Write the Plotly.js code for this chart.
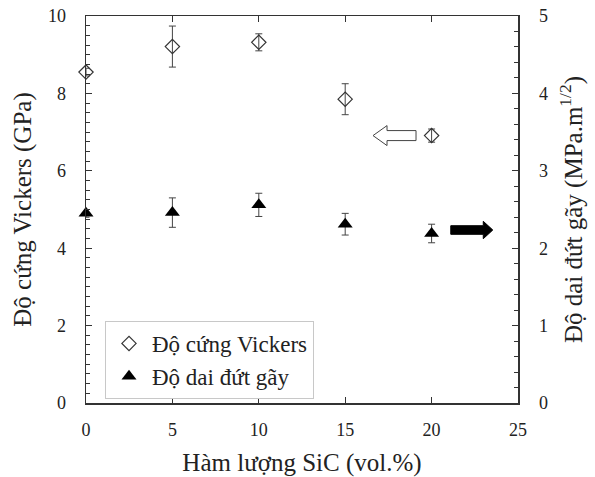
<!DOCTYPE html>
<html>
<head>
<meta charset="utf-8">
<script src="https://cdn.plot.ly/plotly-3.0.1.min.js"></script>
<style>html,body{margin:0;padding:0;background:#fff;}#chart{width:595px;height:477px;}</style>
</head>
<body>
<div id="chart"></div>
<script>
var sicContent = [0, 5, 10, 15, 20];
var hardness = [8.55, 9.21, 9.32, 7.85, 6.91];
var hardnessErr = [0.1, 0.53, 0.22, 0.4, 0.17];
var toughness = [2.45, 2.46, 2.56, 2.31, 2.19];
var toughnessErr = [0.05, 0.19, 0.15, 0.14, 0.12];
var seriesNames = ['Độ cứng Vickers', 'Độ dai đứt gãy'];
var xTitle = 'Hàm lượng SiC (vol.%)';
var yTitle = 'Độ cứng Vickers (GPa)';
var y2Title = 'Độ dai đứt gãy (MPa.m<sup>1/2</sup>)';

var serif = "'Liberation Serif', 'Times New Roman', serif";
var axisColor = '#333';
var textColor = '#222';

var traces = [
  {
    x: sicContent, y: hardness, name: seriesNames[0], type: 'scatter', mode: 'markers',
    cliponaxis: false,
    marker: {symbol: 'diamond-open', size: 11, color: '#333', line: {width: 1.2, color: '#333'}},
    error_y: {type: 'data', array: hardnessErr, visible: true, color: '#444', thickness: 1, width: 3.5},
    yaxis: 'y'
  },
  {
    x: sicContent, y: toughness, name: seriesNames[1], type: 'scatter', mode: 'markers',
    cliponaxis: false,
    marker: {symbol: 'triangle-up', size: 13, color: '#000'},
    error_y: {type: 'data', array: toughnessErr, visible: true, color: '#444', thickness: 1, width: 3.5},
    yaxis: 'y2'
  }
];

var layout = {
  width: 595, height: 477,
  margin: {l: 86, r: 77, t: 16, b: 74},
  paper_bgcolor: '#fff', plot_bgcolor: '#fff',
  font: {family: serif, size: 18, color: textColor},
  showlegend: true,
  legend: {
    x: 0.044, y: 0.212, xanchor: 'left', yanchor: 'top',
    bgcolor: '#fff', bordercolor: '#c8c8c8', borderwidth: 1,
    font: {family: serif, size: 23, color: textColor},
    itemwidth: 36,
    tracegroupgap: 0
  },
  xaxis: {
    range: [0, 25], dtick: 5, tick0: 0,
    showgrid: false, zeroline: false,
    showline: true, linecolor: axisColor, linewidth: 1.5, mirror: 'ticks',
    ticks: 'inside', ticklen: 6, tickcolor: axisColor, tickwidth: 1,
    ticklabelstandoff: 10,
    tickfont: {family: serif, size: 18, color: textColor},
    title: {text: xTitle, font: {family: serif, size: 25, color: textColor}, standoff: 18}
  },
  yaxis: {
    range: [0, 10], dtick: 2, tick0: 0,
    showgrid: false, zeroline: false,
    showline: true, linecolor: axisColor, linewidth: 1.5, mirror: false,
    ticks: 'inside', ticklen: 6, tickcolor: axisColor, tickwidth: 1,
    minor: {dtick: 0.25, ticks: 'inside', ticklen: 4, tickcolor: axisColor, tickwidth: 1},
    ticklabelstandoff: 15,
    tickfont: {family: serif, size: 18, color: textColor},
    title: {text: yTitle, font: {family: serif, size: 25, color: textColor}, standoff: 9}
  },
  yaxis2: {
    range: [0, 5], dtick: 1, tick0: 0, overlaying: 'y', side: 'right',
    showgrid: false, zeroline: false,
    showline: true, linecolor: axisColor, linewidth: 1.5,
    ticks: 'inside', ticklen: 6, tickcolor: axisColor, tickwidth: 1,
    minor: {dtick: 0.2, ticks: 'inside', ticklen: 4, tickcolor: axisColor, tickwidth: 1},
    ticklabelstandoff: 16,
    tickfont: {family: serif, size: 18, color: textColor},
    title: {text: y2Title, font: {family: serif, size: 25, color: textColor}, standoff: 17}
  },
  shapes: [
    {
      type: 'path', xref: 'x', yref: 'y', xsizemode: 'pixel', ysizemode: 'pixel',
      xanchor: 16.61, yanchor: 6.91,
      path: 'M0,0 L14,10 L14,5 L43,5 L43,-5 L14,-5 L14,-10 Z',
      fillcolor: '#fff', line: {color: '#444', width: 1}
    },
    {
      type: 'path', xref: 'x', yref: 'y', xsizemode: 'pixel', ysizemode: 'pixel',
      xanchor: 23.54, yanchor: 4.47,
      path: 'M0,0 L-9.5,8.7 L-9.5,4.3 L-42,4.3 L-42,-4.3 L-9.5,-4.3 L-9.5,-8.7 Z',
      fillcolor: '#000', line: {color: '#000', width: 1}
    }
  ]
};

Plotly.newPlot('chart', traces, layout, {displayModeBar: false, staticPlot: true});
</script>
</body>
</html>
